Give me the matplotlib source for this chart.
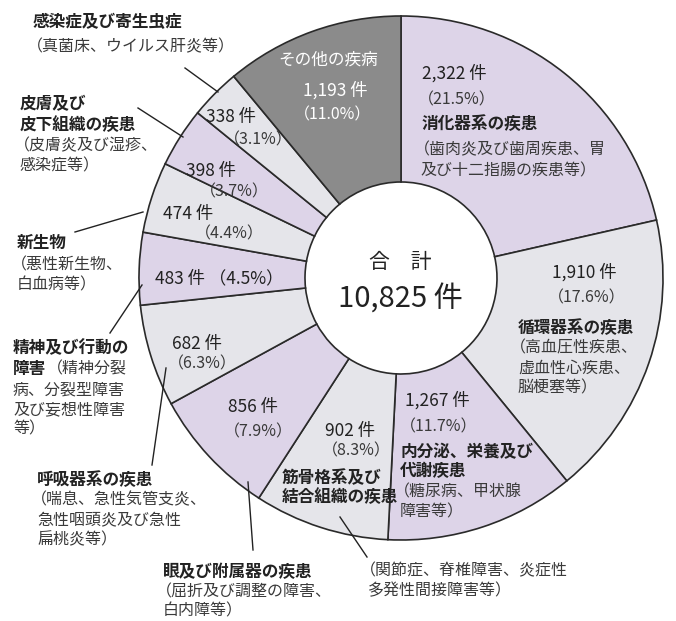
import matplotlib
matplotlib.use("Agg")
import matplotlib.pyplot as plt

plt.rcParams['font.family'] = ['Noto Sans CJK JP', 'DejaVu Sans']

# ---- data (clockwise from 12 o'clock) ----
categories = ["消化器系の疾患", "循環器系の疾患", "内分泌、栄養及び代謝疾患",
              "筋骨格系及び結合組織の疾患", "眼及び附属器の疾患", "呼吸器系の疾患",
              "精神及び行動の障害", "新生物", "皮膚及び皮下組織の疾患",
              "感染症及び寄生虫症", "その他の疾病"]
counts = [2322, 1910, 1267, 902, 856, 682, 483, 474, 398, 338, 1193]
total_label = "合　計"

# ---- style ----
PURPLE = "#ddd4e8"
LGRAY = "#e5e5ea"
DGRAY = "#8b8b8b"
colors = [PURPLE, LGRAY, PURPLE, LGRAY, PURPLE, LGRAY, PURPLE, LGRAY, PURPLE, LGRAY, DGRAY]

W, H = 676, 621
fig = plt.figure(figsize=(W / 100, H / 100), dpi=100)
ax = fig.add_axes([0, 0, 1, 1])


def Y(py):
    return H - py


CX, CY = 401, 278
R_OUT, R_IN = 262, 96

ax.pie(counts, colors=colors, startangle=90, counterclock=False,
       center=(CX, Y(CY)), radius=R_OUT,
       wedgeprops=dict(width=R_OUT - R_IN, edgecolor="#2a2a2a", linewidth=1.2))
ax.set_xlim(0, W)
ax.set_ylim(0, H)
ax.set_aspect("equal")
ax.axis("off")

total = sum(counts)
cnt = [f"{c:,} 件" for c in counts]
pct = [f"（{c / total * 100:.1f}%）" for c in counts]

TXT = "#222222"
SUB = "#3a3a3a"
FS_NUM = 12.5
FS_T = 12
FS_S = 11.5


def t(x, y, s, fs=FS_S, color=SUB, weight="normal", ha="left"):
    ax.text(x, Y(y), s, fontsize=fs, color=color, fontweight=weight,
            ha=ha, va="center")


def leader(x1, y1, x2, y2):
    ax.plot([x1, x2], [Y(y1), Y(y2)], color="#222222", lw=1.0)


# center
t(400, 262, total_label, fs=15, color=TXT, ha="center")
t(400, 300, f"{total:,} 件", fs=21, color=TXT, ha="center")

# digestive
t(422, 73, cnt[0], fs=FS_NUM, color=TXT)
t(418, 100, pct[0])
t(422, 124, "消化器系の疾患", fs=FS_T, color=TXT, weight="bold")
t(414, 150, "（歯肉炎及び歯周疾患、胃")
t(420, 171, "及び十二指腸の疾患等）")

# circulatory
t(552, 272, cnt[1], fs=FS_NUM, color=TXT)
t(548, 298, pct[1])
t(518, 328, "循環器系の疾患", fs=FS_T, color=TXT, weight="bold")
t(510, 348, "（高血圧性疾患、")
t(518, 368, "虚血性心疾患、")
t(518, 388, "脳梗塞等）")

# endocrine
t(405, 400, cnt[2], fs=FS_NUM, color=TXT)
t(400, 427, pct[2])
t(400, 452, "内分泌、栄養及び", fs=FS_T, color=TXT, weight="bold")
t(400, 471, "代謝疾患", fs=FS_T, color=TXT, weight="bold")
t(394, 492, "（糖尿病、甲状腺")
t(400, 512, "障害等）")

# musculoskeletal
t(325, 431, cnt[3], fs=FS_NUM, color=TXT)
t(322, 451, pct[3])
t(282, 478, "筋骨格系及び", fs=FS_T, color=TXT, weight="bold")
t(282, 497, "結合組織の疾患", fs=FS_T, color=TXT, weight="bold")
leader(340, 517, 367, 557)
t(360, 571, "（関節症、脊椎障害、炎症性")
t(368, 591, "多発性間接障害等）")

# eye
t(228, 407, cnt[4], fs=FS_NUM, color=TXT)
t(224, 432, pct[4])
leader(248, 482, 253, 550)
t(163, 572, "眼及び附属器の疾患", fs=FS_T, color=TXT, weight="bold")
t(156, 592, "（屈折及び調整の障害、")
t(163, 611, "白内障等）")

# respiratory
t(172, 344, cnt[5], fs=FS_NUM, color=TXT)
t(168, 364, pct[5])
leader(166, 368, 152, 465)
t(37, 480, "呼吸器系の疾患", fs=FS_T, color=TXT, weight="bold")
t(31, 500, "（喘息、急性気管支炎、")
t(37, 520, "急性咽頭炎及び急性")
t(37, 540, "扁桃炎等）")

# mental
t(155, 278, cnt[6] + " " + pct[6], fs=FS_NUM, color=TXT)
leader(142, 285, 110, 333)
t(13, 348, "精神及び行動の", fs=FS_T, color=TXT, weight="bold")
t(13, 369, "障害", fs=FS_T, color=TXT, weight="bold")
t(47, 369, "（精神分裂")
t(13, 390, "病、分裂型障害")
t(13, 410, "及び妄想性障害")
t(13, 429, "等）")

# neoplasm
t(163, 214, cnt[7], fs=FS_NUM, color=TXT)
t(195, 234, pct[7])
leader(75, 232, 143, 212)
t(17, 243, "新生物", fs=FS_T, color=TXT, weight="bold")
t(11, 265, "（悪性新生物、")
t(17, 285, "白血病等）")

# skin
t(186, 171, cnt[8], fs=FS_NUM, color=TXT)
t(200, 192, pct[8])
leader(138, 108, 183, 137)
t(20, 104, "皮膚及び", fs=FS_T, color=TXT, weight="bold")
t(20, 125, "皮下組織の疾患", fs=FS_T, color=TXT, weight="bold")
t(14, 146, "（皮膚炎及び湿疹、")
t(20, 166, "感染症等）")

# infectious
t(206, 117, cnt[9], fs=FS_NUM, color=TXT)
t(224, 140, pct[9])
leader(185, 68, 218, 92)
t(33, 22, "感染症及び寄生虫症", fs=FS_T, color=TXT, weight="bold")
t(27, 47, "（真菌床、ウイルス肝炎等）")

# other
t(328, 60, categories[10], fs=FS_T, color="white", ha="center")
t(335, 90, cnt[10], fs=FS_NUM, color="white", ha="center")
t(333, 115, pct[10], color="white", ha="center")

fig.savefig("out.png", dpi=100, facecolor="white")
